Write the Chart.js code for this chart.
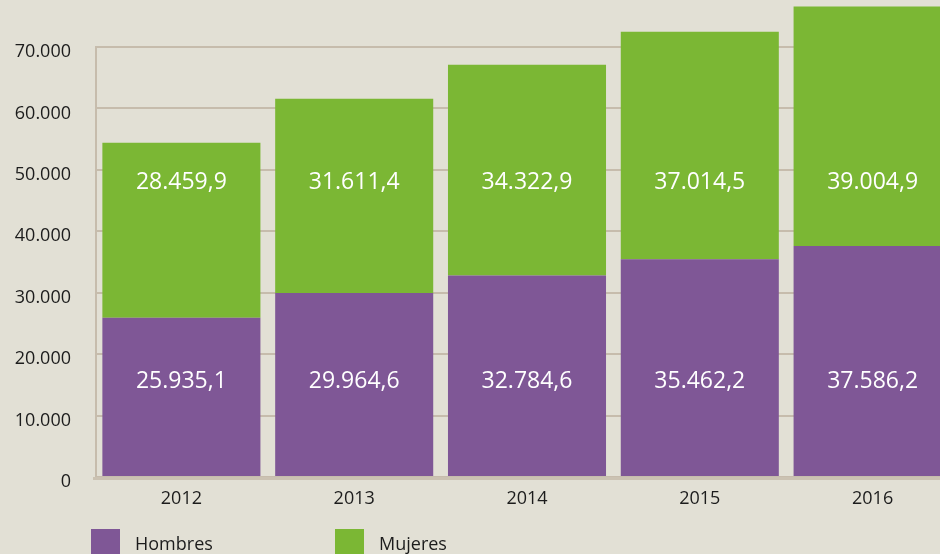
<!DOCTYPE html>
<html>
<head>
<meta charset="utf-8">
<script src="https://cdn.jsdelivr.net/npm/chart.js@4/dist/chart.umd.min.js"></script>
<style>
  html, body { margin: 0; padding: 0; background: #e2e0d5; overflow: hidden; }
  #wrap { position: relative; width: 960px; height: 554px; }
</style>
</head>
<body>
<div id="wrap"><canvas id="c" width="960" height="554"></canvas></div>
<script>
// ---- data ----
const years = ['2012', '2013', '2014', '2015', '2016'];
const hombres = [25935.1, 29964.6, 32784.6, 35462.2, 37586.2];
const mujeres = [28459.9, 31611.4, 34322.9, 37014.5, 39004.9];
const seriesNames = ['Hombres', 'Mujeres'];
const yTicks = [0, 10000, 20000, 30000, 40000, 50000, 60000, 70000];

// ---- style ----
const PURPLE = '#7f5796';
const GREEN = '#7bb734';
const GRID = '#c6bcac';
const AXIS = '#cbc2b2';
const TEXT = '#1c1c1c';
const FONT = '"Open Sans", "Noto Sans", sans-serif';

function fmt(v, dec) {
  const s = v.toFixed(dec);
  const parts = s.split('.');
  const i = parts[0].replace(/\B(?=(\d{3})+(?!\d))/g, '.');
  return parts.length > 1 ? i + ',' + parts[1] : i;
}

const axesPlugin = {
  id: 'axesPlugin',
  beforeDatasetsDraw(chart) {
    const { ctx, scales: { y }, chartArea } = chart;
    const top = y.getPixelForValue(yTicks[yTicks.length - 1]) - 1;
    const bottom = y.getPixelForValue(0) + 3;
    ctx.save();
    ctx.strokeStyle = GRID;
    ctx.lineWidth = 2;
    ctx.beginPath();
    ctx.moveTo(chartArea.left + 1, top);
    ctx.lineTo(chartArea.left + 1, bottom);
    ctx.stroke();
    ctx.restore();
  },
  afterDatasetsDraw(chart) {
    const { ctx, scales: { y }, chartArea } = chart;
    const base = y.getPixelForValue(0);
    ctx.save();
    ctx.strokeStyle = AXIS;
    ctx.lineWidth = 3;
    ctx.beginPath();
    ctx.moveTo(chartArea.left - 2, base + 1.5);
    ctx.lineTo(chartArea.right, base + 1.5);
    ctx.stroke();
    ctx.restore();
  }
};

const barLabels = {
  id: 'barLabels',
  afterDatasetsDraw(chart, args, opts) {
    const { ctx, scales: { y } } = chart;
    ctx.save();
    ctx.fillStyle = '#ffffff';
    ctx.font = '23px ' + FONT;
    ctx.textAlign = 'center';
    ctx.textBaseline = 'middle';
    chart.data.datasets.forEach((ds, i) => {
      const meta = chart.getDatasetMeta(i);
      const ly = y.getPixelForValue(opts.labelAt[i]);
      meta.data.forEach((bar, j) => {
        ctx.fillText(fmt(ds.data[j], 1), bar.x, ly);
      });
    });
    ctx.restore();
  }
};

const customLegend = {
  id: 'customLegend',
  afterDraw(chart, args, opts) {
    const { ctx } = chart;
    ctx.save();
    ctx.font = '18px ' + FONT;
    ctx.textBaseline = 'alphabetic';
    ctx.textAlign = 'left';
    chart.data.datasets.forEach((ds, i) => {
      const x = opts.x + i * opts.step;
      ctx.fillStyle = ds.backgroundColor;
      ctx.fillRect(x, opts.y, opts.box, opts.box);
      ctx.fillStyle = TEXT;
      ctx.fillText(ds.label, x + opts.box + 15, opts.y + 21);
    });
    ctx.restore();
  }
};

new Chart(document.getElementById('c'), {
  type: 'bar',
  data: {
    labels: years,
    datasets: [
      { label: seriesNames[0], data: hombres, backgroundColor: PURPLE, borderWidth: 0 },
      { label: seriesNames[1], data: mujeres, backgroundColor: GREEN, borderWidth: 0 }
    ]
  },
  options: {
    responsive: false,
    animation: false,
    devicePixelRatio: 1,
    layout: { padding: { left: 0, right: 1, top: 0, bottom: 0 } },
    datasets: { bar: { categoryPercentage: 1, barPercentage: 0.9146 } },
    plugins: {
      legend: { display: false },
      tooltip: { enabled: false },
      barLabels: { labelAt: [15600, 47900] },
      customLegend: { x: 91, y: 529, box: 29, step: 244 }
    },
    scales: {
      x: {
        stacked: true,
        grid: { display: false, drawTicks: false },
        border: { display: false },
        ticks: { color: TEXT, font: { family: FONT, size: 18 }, padding: 11 },
        afterFit(s) { s.height = 77; s.paddingLeft = 0; s.paddingRight = 0; }
      },
      y: {
        stacked: true,
        min: 0,
        max: 77650,
        afterBuildTicks(s) { s.ticks = yTicks.map(v => ({ value: v })); },
        grid: { color: GRID, lineWidth: 2, drawTicks: false },
        border: { display: false },
        ticks: {
          color: TEXT,
          font: { family: FONT, size: 18 },
          padding: 24,
          labelOffset: 5,
          callback: v => fmt(v, 0)
        },
        afterFit(s) { s.width = 95; s.paddingTop = 0; s.paddingBottom = 0; }
      }
    }
  },
  plugins: [axesPlugin, barLabels, customLegend]
});
</script>
</body>
</html>
